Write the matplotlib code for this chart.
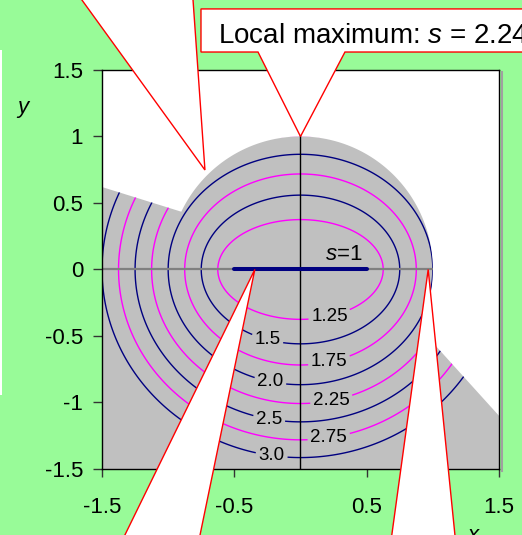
import numpy as np
import matplotlib
matplotlib.use("Agg")
import matplotlib.pyplot as plt
from matplotlib.path import Path
from matplotlib.patches import PathPatch, Polygon, Rectangle
from matplotlib.lines import Line2D

plt.rcParams['font.family'] = ['Liberation Sans', 'DejaVu Sans']
plt.rcParams['mathtext.fontset'] = 'custom'
plt.rcParams['mathtext.it'] = 'Liberation Sans:italic'
plt.rcParams['mathtext.rm'] = 'Liberation Sans'
plt.rcParams['axes.unicode_minus'] = False

# foci of the elliptic field s = |P - F1| + |P - F2|
foci_x = [-0.5, 0.5]
foci_y = [0.0, 0.0]

# contour levels, their labels and label anchors
levels = [1.25, 1.5, 1.75, 2.0, 2.25, 2.5, 2.75, 3.0]
level_labels = ['1.25', '1.5', '1.75', '2.0', '2.25', '2.5', '2.75', '3.0']
level_colors = ['#FF00FF', '#000080', '#FF00FF', '#000080',
                '#FF00FF', '#000080', '#FF00FF', '#000080']
label_x = [0.215, -0.24, 0.21, -0.23, 0.235, -0.24, 0.215, -0.22]
label_y = [-0.33, -0.49, -0.66, -0.85, -0.99, -1.14, -1.27, -1.41]

# admissible region: unit disc plus a wedge with its apex on the right focus
disc_radius = 1.0
wedge_apex = (0.5, 0.0)
wedge_upper = (-1.5, 0.62)
wedge_lower = (1.5, -1.1)

# local maximum on the disc boundary
peak = (0.0, 1.0)
peak_s = 2.24

xticks = [-1.5, -0.5, 0.5, 1.5]
xtick_labels = ['-1.5', '-0.5', '0.5', '1.5']
yticks = [-1.5, -1.0, -0.5, 0.0, 0.5, 1.0, 1.5]
ytick_labels = ['-1.5', '-1', '-0.5', '0', '0.5', '1', '1.5']

GREEN = '#98FB98'
GRAY = '#C0C0C0'


def ray_hits_circle(apex, through, r):
    a = np.array(apex)
    d = np.array(through) - a
    # |a + t d| = r, positive root
    qa = d @ d
    qb = 2 * (a @ d)
    qc = a @ a - r * r
    t = (-qb + np.sqrt(qb * qb - 4 * qa * qc)) / (2 * qa)
    p = a + t * d
    return np.arctan2(p[1], p[0])


th1 = ray_hits_circle(wedge_apex, wedge_upper, disc_radius)
th2 = ray_hits_circle(wedge_apex, wedge_lower, disc_radius)
arc_t = np.linspace(th1, th2, 200)
region_pts = np.column_stack([disc_radius * np.cos(arc_t), disc_radius * np.sin(arc_t)])
region_pts = np.vstack([region_pts, [wedge_lower, (1.5, -1.5), (-1.5, -1.5), wedge_upper]])
region_path = Path(np.vstack([region_pts, region_pts[:1]]), closed=True)

fig = plt.figure(figsize=(5.22, 5.35), dpi=100, facecolor=GREEN)
ax = fig.add_axes([0.1954, 0.1234, 0.7605, 0.7458])
ax.set_facecolor('white')
ax.set_xlim(-1.5, 1.5)
ax.set_ylim(-1.5, 1.5)

region = PathPatch(region_path, facecolor=GRAY, edgecolor='none', zorder=1)
ax.add_patch(region)

gx = np.linspace(-1.5, 1.5, 701)
X, Y = np.meshgrid(gx, gx)
S = np.hypot(X - foci_x[0], Y - foci_y[0]) + np.hypot(X - foci_x[1], Y - foci_y[1])

cs = ax.contour(X, Y, S, levels=levels, colors=level_colors, linewidths=1.0, zorder=2)
cs.clabel(levels, inline=True, inline_spacing=3, fontsize=13.5, colors='k',
          fmt=dict(zip(levels, level_labels)), manual=list(zip(label_x, label_y)))
for t in cs.labelTexts:
    t.set_rotation(0)
cs.set_clip_path(region)

# axis lines through the origin
zero_line, = ax.plot([-1.5, 1.5], [0, 0], color='#808080', lw=1.6, zorder=2.2)
zero_line.set_clip_path(region)
ax.axvline(0, color='black', lw=1.0, zorder=2.3)

# s = 1 level is the segment between the foci
ax.plot(foci_x, foci_y, color='#000080', lw=2.9, solid_capstyle='round', zorder=3)
ax.text(0.325, 0.03, '$s$=1', fontsize=16, ha='center', va='bottom', zorder=4)

ax.set_xticks(xticks, xtick_labels)
ax.set_yticks(yticks, ytick_labels)
ax.tick_params(axis='x', direction='out', length=6, width=1, pad=14, labelsize=16, color='#333333')
ax.tick_params(axis='y', direction='out', length=6.5, width=1, pad=7, labelsize=16, color='#333333')
for sp in ax.spines.values():
    sp.set_color('black')
    sp.set_linewidth(1.0)

# callouts
callout_kw = dict(facecolor='white', edgecolor='red', lw=1.0, clip_on=False, zorder=10)
ax.add_patch(Polygon([(-1.816, 2.252), (-0.722, 0.748), (-0.828, 2.252)], **callout_kw))
ax.add_patch(Polygon([(-0.752, 1.959), (1.961, 1.959), (1.961, 1.635), (0.336, 1.635),
                      peak, (-0.321, 1.635), (-0.752, 1.635)], **callout_kw))
ax.add_patch(Polygon([(-1.438, -2.222), (-0.345, 0.0), (-0.806, -2.222)], **callout_kw))
ax.add_patch(Polygon([(0.659, -2.222), (0.965, 0.0), (1.19, -2.222)], **callout_kw))

ax.text(-0.624, 1.701, 'Local maximum: $s$ = %.2f' % peak_s, fontsize=20,
        ha='left', va='baseline', clip_on=False, zorder=11)

fig.text(23 / 522, 1 - 108 / 535, 'y', fontsize=16, style='italic', ha='center', va='center')
fig.text(473 / 522, 1 - 525 / 535, 'x', fontsize=16, style='italic', ha='center', va='top')

# white edge strip on the left and plot-area shadow on the right
fig.add_artist(Rectangle((0, 1 - 395 / 535), 2 / 522, 345 / 535,
                         transform=fig.transFigure, facecolor='white', edgecolor='none'))
fig.add_artist(Line2D([501.5 / 522, 501.5 / 522], [1 - 72 / 535, 1 - 471 / 535],
                      transform=fig.transFigure, color='#A0A0A0', lw=1.5))

fig.savefig('out.png', dpi=100, facecolor=GREEN)
